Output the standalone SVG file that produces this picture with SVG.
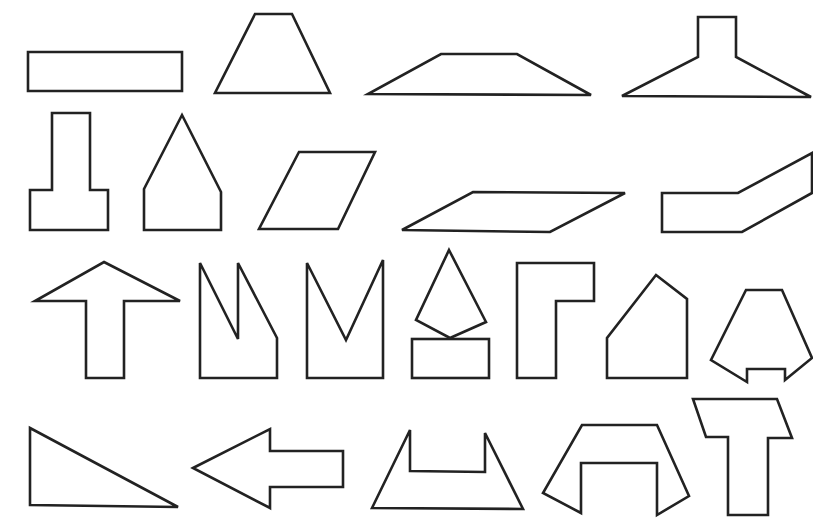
<svg xmlns="http://www.w3.org/2000/svg" width="813" height="521" viewBox="0 0 813 521">
<style>
.s{fill:none;stroke:#222;stroke-width:2.6;stroke-linejoin:miter}
</style>
<rect width="813" height="521" fill="#fff"/>
<g id="shape-1"><polygon class="s" points="28,52 182,52 182,91 28,91"/></g>
<g id="shape-2"><polygon class="s" points="255,14 292,14 330,93 215,93"/></g>
<g id="shape-3"><polygon class="s" points="441,54 517,54 591,95 368,94"/></g>
<g id="shape-4"><polygon class="s" points="622,96 698,57 698,17 736,17 736,57 811,97"/></g>
<g id="shape-5"><polygon class="s" points="52,113 90,113 90,190 108,190 108,230 30,230 30,190 52,190"/></g>
<g id="shape-6"><polygon class="s" points="182,115 221,192 221,230 144,230 144,189"/></g>
<g id="shape-7"><polygon class="s" points="299,152 375,152 338,229 259,229"/></g>
<g id="shape-8"><polygon class="s" points="473,192 625,193 550,232 402,230"/></g>
<g id="shape-9"><polygon class="s" points="662,193 738,193 812,153 812,193 742,232 662,232"/></g>
<g id="shape-10"><polygon class="s" points="104,262 180,301 124,301 124,378 86,378 86,301 35,301"/></g>
<g id="shape-11"><polygon class="s" points="200,263 238,339 238,263 277,338 277,378 200,378"/></g>
<g id="shape-12"><polygon class="s" points="307,263 346,340 383,260 383,378 307,378"/></g>
<g id="shape-13"><polygon class="s" points="449,250 486,322 450,338 416,320"/><rect class="s" x="412" y="339" width="77" height="39"/></g>
<g id="shape-14"><polygon class="s" points="517,263 594,263 594,301 556,301 556,378 517,378"/></g>
<g id="shape-15"><polygon class="s" points="656,275 687,299 687,378 607,378 607,338"/></g>
<g id="shape-16"><polygon class="s" points="746,290 782,290 812,358 785,380 785,369 747,369 747,382 711,360"/></g>
<g id="shape-17"><polygon class="s" points="30,428 178,507 30,505"/></g>
<g id="shape-18"><polygon class="s" points="193,468 270,429 270,451 343,451 343,487 270,487 270,508"/></g>
<g id="shape-19"><polygon class="s" points="372,508 410,430 410,471 485,472 485,433 523,509"/></g>
<g id="shape-20"><polygon class="s" points="582,425 657,425 689,496 657,515 657,463 581,463 581,513 543,493"/></g>
<g id="shape-21"><polygon class="s" points="693,399 777,399 792,438 768,438 768,515 728,515 728,437 706,437"/></g>
</svg>
